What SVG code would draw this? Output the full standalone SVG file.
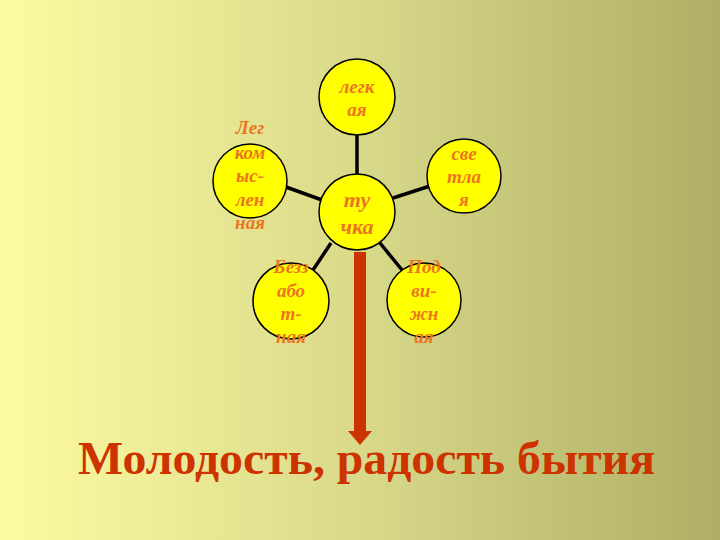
<svg xmlns="http://www.w3.org/2000/svg" width="720" height="540" viewBox="0 0 720 540">
<defs>
<linearGradient id="bg" x1="0" y1="0" x2="1" y2="0">
<stop offset="0" stop-color="#FDFBA2"/>
<stop offset="0.5" stop-color="#D9D98A"/>
<stop offset="1" stop-color="#AEAE66"/>
</linearGradient>
<style>
.node{fill:#FFFF00;stroke:#000;stroke-width:1.5}
.lbl{font-family:"Liberation Serif",serif;font-weight:bold;font-style:italic;font-size:19px;fill:#EC7620;text-anchor:middle}
.big{font-size:22px}
.conn{stroke:#000;stroke-width:3.5}
.title{font-family:"Liberation Serif",serif;font-weight:bold;font-size:46px;fill:#CC3300}
</style>
</defs>
<rect x="0" y="0" width="720" height="540" fill="url(#bg)"/>
<g id="connectors">
<line class="conn" x1="357" y1="135" x2="357" y2="174"/>
<line class="conn" x1="286" y1="187" x2="322" y2="200"/>
<line class="conn" x1="393" y1="198" x2="430" y2="186"/>
<line class="conn" x1="331" y1="243" x2="313" y2="270"/>
<line class="conn" x1="380" y1="243" x2="402" y2="270"/>
<path d="M354 252 H366 V431 H372 L360 445 L348 431 H354 Z" fill="#CC3300"/>
</g>
<g id="n-top">
<circle class="node" cx="357" cy="97" r="38"/>
<text class="lbl" x="357" y="93">легк</text>
<text class="lbl" x="357" y="116">ая</text>
</g>
<g id="n-left">
<circle class="node" cx="250" cy="181" r="37"/>
<text class="lbl" x="250" y="134">Лег</text>
<text class="lbl" x="250" y="159">ком</text>
<text class="lbl" x="250" y="182">ыс-</text>
<text class="lbl" x="250" y="206">лен</text>
<text class="lbl" x="250" y="229">ная</text>
</g>
<g id="n-right">
<circle class="node" cx="464" cy="176" r="37"/>
<text class="lbl" x="464" y="160">све</text>
<text class="lbl" x="464" y="183">тла</text>
<text class="lbl" x="464" y="206">я</text>
</g>
<g id="n-center">
<circle class="node" cx="357" cy="212" r="38"/>
<text class="lbl big" x="357" y="207">ту</text>
<text class="lbl big" x="357" y="234">чка</text>
</g>
<g id="n-bl">
<circle class="node" cx="291" cy="301" r="38"/>
<text class="lbl" x="291" y="273">Безз</text>
<text class="lbl" x="291" y="297">або</text>
<text class="lbl" x="291" y="320">т-</text>
<text class="lbl" x="291" y="343">ная</text>
</g>
<g id="n-br">
<circle class="node" cx="424" cy="300" r="37"/>
<text class="lbl" x="424" y="273">Под</text>
<text class="lbl" x="424" y="297">ви-</text>
<text class="lbl" x="424" y="320">жн</text>
<text class="lbl" x="424" y="343">ая</text>
</g>
<text class="title" x="78" y="474" textLength="577" lengthAdjust="spacingAndGlyphs">Молодость, радость бытия</text>
</svg>
